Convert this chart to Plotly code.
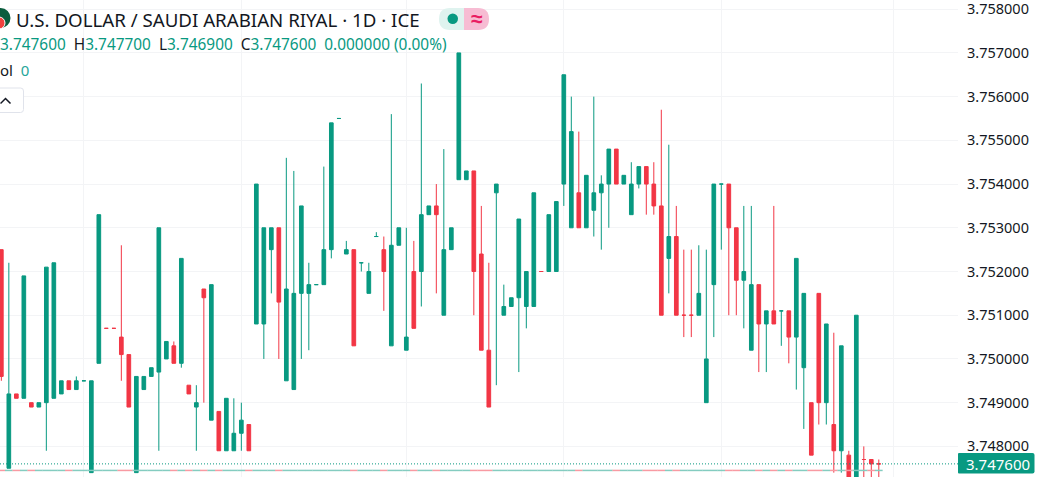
import plotly.graph_objects as go

# candles, left to right
opens = [3.7525, 3.7475, 3.7492, 3.7491, 3.7490, 3.7489, 3.7490, 3.7491, 3.7492, 3.7495,
         3.7493, 3.7495, 3.7474, 3.7499, 3.7507, 3.7507, 3.7505, 3.7501, 3.7474, 3.7493,
         3.7496, 3.7497, 3.7500, 3.7503, 3.7499, 3.7494, 3.7489, 3.7516, 3.7486, 3.7488,
         3.7479, 3.7479, 3.7483, 3.7485, 3.7508, 3.7508, 3.7525, 3.7530, 3.7495, 3.7493,
         3.7515, 3.7515, 3.7517, 3.7517, 3.7525, 3.7555, 3.7524, 3.7525, 3.7522, 3.7515,
         3.7528, 3.7525, 3.7503, 3.7526, 3.7502, 3.7520, 3.7520, 3.7533, 3.7535, 3.7510,
         3.7525, 3.7541, 3.7541, 3.7543, 3.7524, 3.7502, 3.7538, 3.7510, 3.7512, 3.7514,
         3.7512, 3.7512, 3.7520, 3.7520, 3.7520, 3.7540, 3.7530, 3.7538, 3.7530, 3.7534,
         3.7538, 3.7540, 3.7548, 3.7540, 3.7533, 3.7540, 3.7544, 3.7540, 3.7535, 3.7523,
         3.7528, 3.7510, 3.7510, 3.7510, 3.7490, 3.7517, 3.7540, 3.7540, 3.7530, 3.7518,
         3.7502, 3.7517, 3.7508, 3.7511, 3.7511, 3.7511, 3.7505, 3.7498, 3.7490, 3.7515,
         3.7490, 3.7485, 3.7479, 3.7478, 3.7472, 3.7477, 3.7477, 3.7476]
closes = [3.7496, 3.7492, 3.7491, 3.7519, 3.7489, 3.7490, 3.7521, 3.7522, 3.7495, 3.7493,
          3.7495, 3.7495, 3.7495, 3.7533, 3.7507, 3.7507, 3.7501, 3.7489, 3.7496, 3.7496,
          3.7498, 3.7530, 3.7504, 3.7499, 3.7523, 3.7492, 3.7490, 3.7514, 3.7517, 3.7479,
          3.7491, 3.7483, 3.7486, 3.7479, 3.7540, 3.7530, 3.7530, 3.7513, 3.7516, 3.7515,
          3.7535, 3.7517, 3.7517, 3.7525, 3.7554, 3.7555, 3.7525, 3.7503, 3.7522, 3.7520,
          3.7528, 3.7520, 3.7526, 3.7530, 3.7505, 3.7507, 3.7533, 3.7535, 3.7533, 3.7525,
          3.7530, 3.7570, 3.7543, 3.7520, 3.7502, 3.7489, 3.7540, 3.7512, 3.7514, 3.7532,
          3.7520, 3.7538, 3.7520, 3.7533, 3.7536, 3.7565, 3.7552, 3.7530, 3.7542, 3.7538,
          3.7540, 3.7548, 3.7540, 3.7542, 3.7540, 3.7544, 3.7540, 3.7535, 3.7510, 3.7528,
          3.7510, 3.7510, 3.7510, 3.7515, 3.7500, 3.7540, 3.7540, 3.7530, 3.7518, 3.7520,
          3.7517, 3.7508, 3.7511, 3.7508, 3.7511, 3.7505, 3.7523, 3.7515, 3.7478, 3.7490,
          3.7508, 3.7479, 3.7503, 3.7472, 3.7510, 3.7477, 3.7476, 3.7476]
highs = [3.7525, 3.7522, 3.7492, 3.7519, 3.7490, 3.7490, 3.7521, 3.7522, 3.7495, 3.7495,
         3.7496, 3.7495, 3.7495, 3.7533, 3.7507, 3.7507, 3.7526, 3.7501, 3.7496, 3.7496,
         3.7498, 3.7530, 3.7504, 3.7504, 3.7523, 3.7494, 3.7494, 3.7516, 3.7517, 3.7488,
         3.7491, 3.7491, 3.7490, 3.7485, 3.7540, 3.7530, 3.7530, 3.7530, 3.7546, 3.7543,
         3.7535, 3.7522, 3.7517, 3.7544, 3.7554, 3.7555, 3.7527, 3.7525, 3.7522, 3.7522,
         3.7529, 3.7528, 3.7556, 3.7530, 3.7530, 3.7527, 3.7563, 3.7535, 3.7540, 3.7548,
         3.7530, 3.7570, 3.7543, 3.7543, 3.7535, 3.7522, 3.7540, 3.7517, 3.7514, 3.7532,
         3.7520, 3.7538, 3.7520, 3.7533, 3.7536, 3.7565, 3.7560, 3.7552, 3.7542, 3.7560,
         3.7542, 3.7548, 3.7548, 3.7542, 3.7545, 3.7544, 3.7544, 3.7545, 3.7557, 3.7549,
         3.7535, 3.7525, 3.7525, 3.7526, 3.7525, 3.7540, 3.7540, 3.7540, 3.7530, 3.7535,
         3.7535, 3.7517, 3.7511, 3.7535, 3.7511, 3.7511, 3.7523, 3.7515, 3.7490, 3.7515,
         3.7508, 3.7506, 3.7503, 3.7479, 3.7510, 3.7480, 3.7477, 3.7477]
lows = [3.7495, 3.7475, 3.7491, 3.7491, 3.7489, 3.7489, 3.7479, 3.7491, 3.7492, 3.7493,
        3.7493, 3.7495, 3.7474, 3.7499, 3.7507, 3.7507, 3.7495, 3.7489, 3.7474, 3.7493,
        3.7496, 3.7479, 3.7500, 3.7499, 3.7498, 3.7492, 3.7479, 3.7490, 3.7486, 3.7479,
        3.7479, 3.7479, 3.7479, 3.7479, 3.7508, 3.7500, 3.7515, 3.7500, 3.7495, 3.7493,
        3.7500, 3.7502, 3.7517, 3.7517, 3.7523, 3.7555, 3.7524, 3.7503, 3.7520, 3.7515,
        3.7528, 3.7511, 3.7503, 3.7526, 3.7502, 3.7507, 3.7512, 3.7533, 3.7515, 3.7510,
        3.7525, 3.7541, 3.7541, 3.7510, 3.7502, 3.7489, 3.7494, 3.7510, 3.7512, 3.7497,
        3.7507, 3.7512, 3.7520, 3.7520, 3.7520, 3.7535, 3.7530, 3.7530, 3.7530, 3.7528,
        3.7525, 3.7530, 3.7540, 3.7540, 3.7533, 3.7539, 3.7533, 3.7533, 3.7510, 3.7515,
        3.7510, 3.7505, 3.7505, 3.7510, 3.7490, 3.7505, 3.7525, 3.7510, 3.7510, 3.7507,
        3.7502, 3.7497, 3.7497, 3.7508, 3.7503, 3.7499, 3.7493, 3.7484, 3.7478, 3.7485,
        3.7485, 3.7474, 3.7474, 3.7472, 3.7472, 3.7472, 3.7472, 3.7469]

price_ticks = [3.748, 3.749, 3.750, 3.751, 3.752, 3.753, 3.754, 3.755, 3.756, 3.757, 3.758]
date_grid = [11, 32, 54, 75, 96, 119]
last_price = 3.7476
vol_level = 3.74745

GREEN = "#089981"
RED = "#F23645"
TEXT = "#131722"
PLOT_W = 958
PLOT_H = 477


def fx(px):
    return px / PLOT_W


def fy(py):
    return 1 - py / PLOT_H


def rounded(x0, y0, x1, y1, rl, rr):
    # rounded box as a paper path, rl / rr are the left and right corner radii
    return (f"M {fx(x0 + rl)} {fy(y0)} L {fx(x1 - rr)} {fy(y0)} "
            f"Q {fx(x1)} {fy(y0)} {fx(x1)} {fy(y0 + rr)} L {fx(x1)} {fy(y1 - rr)} "
            f"Q {fx(x1)} {fy(y1)} {fx(x1 - rr)} {fy(y1)} L {fx(x0 + rl)} {fy(y1)} "
            f"Q {fx(x0)} {fy(y1)} {fx(x0)} {fy(y1 - rl)} L {fx(x0)} {fy(y0 + rl)} "
            f"Q {fx(x0)} {fy(y0)} {fx(x0 + rl)} {fy(y0)} Z")


def label(text, x, y, size, color=TEXT, xanchor="left"):
    fig.add_annotation(text=text, xref="paper", yref="paper", x=fx(x), y=fy(y), xanchor=xanchor,
                       yanchor="middle", showarrow=False, font=dict(color=color, size=size))


days = list(range(len(opens)))

fig = go.Figure()

# zero volume bars show up as a row of little dashes at the bottom
vol_colors = ["#84CCC0" if c >= o else "#F89AA2" for o, c in zip(opens, closes)]
fig.add_trace(go.Scatter(
    x=days, y=[vol_level] * len(days), mode="markers", hoverinfo="skip",
    marker=dict(symbol="line-ew", size=5.5, color=vol_colors,
                line=dict(color=vol_colors, width=1.5)),
))

fig.add_trace(go.Candlestick(
    x=days, open=opens, high=highs, low=lows, close=closes,
    increasing=dict(line=dict(color=GREEN, width=1), fillcolor=GREEN),
    decreasing=dict(line=dict(color=RED, width=1), fillcolor=RED),
    whiskerwidth=0,
))

# last price line and label
fig.add_hline(y=last_price, line=dict(color=GREEN, width=1, dash="1px 2px"))
fig.add_shape(type="path", xref="paper", yref="paper", path=rounded(958, 453, 1034.5, 473.5, 1, 2),
              fillcolor=GREEN, line_width=0)
label("3.747600", 998, 463.5, 15, color="white", xanchor="center")

# legend block, top left
label("U.S. DOLLAR / SAUDI ARABIAN RIYAL · 1D · ICE", 14, 20, 18.7)
gap = "\u00a0"
val = "<span style='color:#089981'>{}</span>"
label(val.format("3.747600") + f"{gap}{gap}H" + val.format("3.747700")
      + f"{gap}{gap}L" + val.format("3.746900")
      + f"{gap}{gap}C" + val.format("3.747600")
      + f"{gap}{gap}" + val.format("0.000000 (0.00%)"), -2, 44, 15.4)
label(f"ol{gap}{gap}<span style='color:#26A69A'>0</span>", -2, 70, 15)

# flag icon
fig.add_shape(type="circle", xref="paper", yref="paper", x0=fx(-9), x1=fx(10.5), y0=fy(28), y1=fy(8),
              fillcolor="#0B5D3E", line_width=0)
fig.add_shape(type="circle", xref="paper", yref="paper", x0=fx(-7), x1=fx(5), y0=fy(29), y1=fy(17),
              fillcolor="#F0423F", line=dict(color="white", width=1))

# status pill
fig.add_shape(type="path", xref="paper", yref="paper", path=rounded(464, 8, 489, 30, 0, 11),
              fillcolor="#F7BCD3", line_width=0)
fig.add_shape(type="path", xref="paper", yref="paper", path=rounded(439, 8, 464, 30, 11, 0),
              fillcolor="#DFF3EF", line_width=0)
fig.add_shape(type="circle", xref="paper", yref="paper", x0=fx(447.5), x1=fx(458), y0=fy(24), y1=fy(13.5),
              fillcolor=GREEN, line_width=0)
label("<b>≈</b>", 476.5, 18.5, 21, color="#E91E63", xanchor="center")

# collapse button
fig.add_shape(type="path", xref="paper", yref="paper", path=rounded(-8, 88, 23.5, 112.5, 3, 3),
              fillcolor="white", line=dict(color="#E0E3EB", width=1))
fig.add_shape(type="path", xref="paper", yref="paper",
              path=f"M {fx(0.5)} {fy(103.5)} L {fx(5.5)} {fy(98.5)} L {fx(10.5)} {fy(103.5)}",
              line=dict(color=TEXT, width=1.5))

fig.update_layout(
    width=1042, height=477,
    margin=dict(l=0, r=84, t=0, b=0, autoexpand=False),
    paper_bgcolor="white", plot_bgcolor="white",
    showlegend=False,
    font=dict(family="Noto Sans, sans-serif", color=TEXT, size=14),
)
fig.update_xaxes(
    range=[-0.178, 127.56], rangeslider_visible=False, showline=False, zeroline=False,
    ticks="", showticklabels=False, showgrid=True, gridcolor="#F3F4F6", gridwidth=1,
    tickvals=date_grid,
)
fig.update_yaxes(
    side="right", range=[3.7473, 3.75821], tickvals=price_ticks,
    ticktext=[f"{p:.6f}" for p in price_ticks], showgrid=True, gridcolor="#F3F4F6", gridwidth=1,
    showline=False, zeroline=False, ticks="", ticklabelstandoff=8, ticklabeloverflow="allow",
    tickfont=dict(size=14.5, color=TEXT),
)

# page margin off so the chart fills the window
fig.write_html("out.html", config={"displayModeBar": False},
               post_script="document.body.style.margin='0';")
